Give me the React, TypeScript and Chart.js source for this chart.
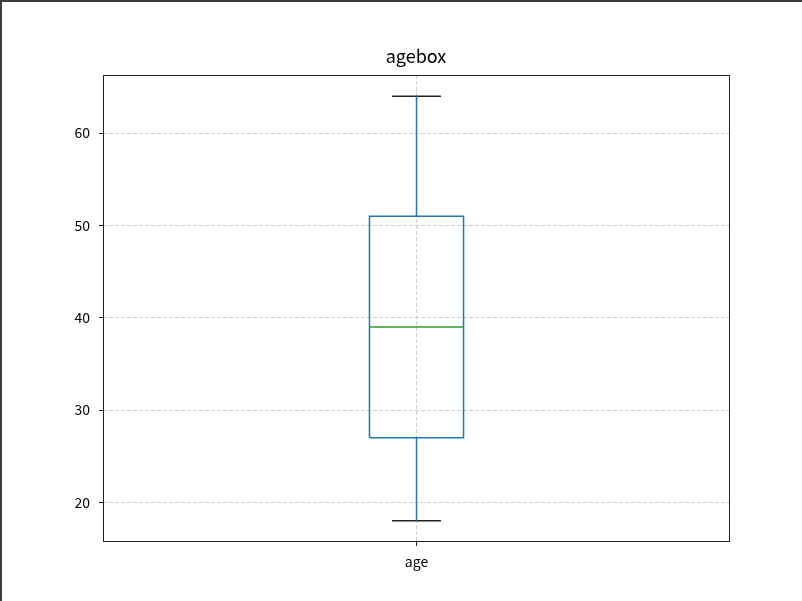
import React, { useEffect, useRef } from 'react';
import { Chart, registerables } from 'chart.js';

Chart.register(...registerables);

// ---- data ----
const categories = ['age'];
const whiskerLow = [18];
const q1Values = [27];
const medianValues = [39];
const q3Values = [51];
const whiskerHigh = [64];
const yTickValues = [20, 30, 40, 50, 60];
const titleText = 'agebox';

// ---- style ----
const BOX_HALF = 0.075;
const CAP_HALF = 0.039;
const BLUE = '#1f77b4';
const GREEN = '#2ca02c';
const DARK = '#222222';
const FONT = '"Noto Sans CJK JP", "Noto Sans", sans-serif';
const LW = 1.5;

function buildDatasets() {
  const ds: any[] = [];
  const base = { showLine: true, pointRadius: 0, pointHoverRadius: 0, fill: false, tension: 0, borderJoinStyle: 'miter' };
  categories.forEach((c, i) => {
    const x = i + 1;
    ds.push({ ...base, label: c + ' lower whisker', borderColor: BLUE, borderWidth: LW,
      data: [{ x, y: q1Values[i] }, { x, y: whiskerLow[i] }] });
    ds.push({ ...base, label: c + ' upper whisker', borderColor: BLUE, borderWidth: LW,
      data: [{ x, y: q3Values[i] }, { x, y: whiskerHigh[i] }] });
    ds.push({ ...base, label: c + ' box', borderColor: BLUE, borderWidth: LW,
      data: [
        { x: x - BOX_HALF, y: q1Values[i] },
        { x: x + BOX_HALF, y: q1Values[i] },
        { x: x + BOX_HALF, y: q3Values[i] },
        { x: x - BOX_HALF, y: q3Values[i] },
        { x: x - BOX_HALF, y: q1Values[i] },
      ] });
    ds.push({ ...base, label: c + ' median', borderColor: GREEN, borderWidth: LW,
      data: [{ x: x - BOX_HALF, y: medianValues[i] }, { x: x + BOX_HALF, y: medianValues[i] }] });
    ds.push({ ...base, label: c + ' low cap', borderColor: DARK, borderWidth: LW,
      data: [{ x: x - CAP_HALF, y: whiskerLow[i] }, { x: x + CAP_HALF, y: whiskerLow[i] }] });
    ds.push({ ...base, label: c + ' high cap', borderColor: DARK, borderWidth: LW,
      data: [{ x: x - CAP_HALF, y: whiskerHigh[i] }, { x: x + CAP_HALF, y: whiskerHigh[i] }] });
  });
  return ds;
}

const framePlugin = {
  id: 'frame',
  afterDraw(chart: any) {
    const { ctx, chartArea } = chart;
    const l = Math.round(chartArea.left) + 0.5;
    const t = Math.round(chartArea.top) + 0.5;
    const r = Math.round(chartArea.right) - 0.5;
    const b = Math.round(chartArea.bottom) - 0.5;
    ctx.save();
    ctx.strokeStyle = DARK;
    ctx.lineWidth = 1;
    ctx.setLineDash([]);
    ctx.strokeRect(l, t, r - l, b - t);
    ctx.restore();
  },
};

export default function App() {
  const ref = useRef<HTMLCanvasElement>(null);
  useEffect(() => {
    if (!ref.current) return;
    const allVals = [...whiskerLow, ...whiskerHigh];
    const lo = Math.min(...allVals);
    const hi = Math.max(...allVals);
    const pad = (hi - lo) * 0.05;
    const chart = new Chart(ref.current, {
      type: 'scatter',
      data: { datasets: buildDatasets() },
      plugins: [framePlugin],
      options: {
        responsive: false,
        animation: false,
        devicePixelRatio: 1,
        layout: { padding: { top: 73, right: 72, bottom: 0, left: 0 } },
        plugins: {
          legend: { display: false },
          tooltip: { enabled: false },
          title: { display: false },
        },
        scales: {
          x: {
            type: 'linear',
            min: 0.5,
            max: categories.length + 0.5,
            afterBuildTicks: (scale: any) => {
              scale.ticks = categories.map((_, i) => ({ value: i + 1 }));
            },
            afterFit: (scale: any) => { scale.height = 59; },
            ticks: {
              autoSkip: false,
              maxRotation: 0,
              padding: 7,
              color: '#000',
              font: { family: FONT, size: 14 },
              callback: (v: any) => categories[Math.round(v) - 1] ?? '',
            },
            grid: {
              color: '#cfcfcf',
              lineWidth: 1,
              drawTicks: true,
              tickLength: 4,
              tickColor: DARK,
              tickWidth: 1,
              tickBorderDash: [],
            },
            border: { display: false, dash: [4, 2] },
          },
          y: {
            type: 'linear',
            min: lo - pad,
            max: hi + pad,
            afterBuildTicks: (scale: any) => {
              scale.ticks = yTickValues.map((v) => ({ value: v }));
            },
            afterFit: (scale: any) => { scale.width = 101; },
            ticks: {
              padding: 9,
              color: '#000',
              font: { family: FONT, size: 14 },
              callback: (v: any) => String(v),
            },
            grid: {
              color: '#cfcfcf',
              lineWidth: 1,
              drawTicks: true,
              tickLength: 4,
              tickColor: DARK,
              tickWidth: 1,
              tickBorderDash: [],
            },
            border: { display: false, dash: [4, 2] },
          },
        },
      } as any,
    });
    return () => chart.destroy();
  }, []);

  return (
    <div
      style={{
        position: 'absolute',
        left: 0,
        top: 0,
        width: 802,
        height: 601,
        boxSizing: 'border-box',
        borderTop: '2px solid #3a3d41',
        borderLeft: '2px solid #3a3d41',
        background: '#fff',
        overflow: 'hidden',
      }}
    >
      <canvas ref={ref} width={800} height={599} style={{ position: 'absolute', left: 0, top: 0, width: 800, height: 599 }} />
      <div
        style={{
          position: 'absolute',
          left: 101,
          width: 626,
          top: 43,
          textAlign: 'center',
          fontFamily: FONT,
          fontSize: 18,
          lineHeight: '21px',
          color: '#000',
        }}
      >
        {titleText}
      </div>
    </div>
  );
}
